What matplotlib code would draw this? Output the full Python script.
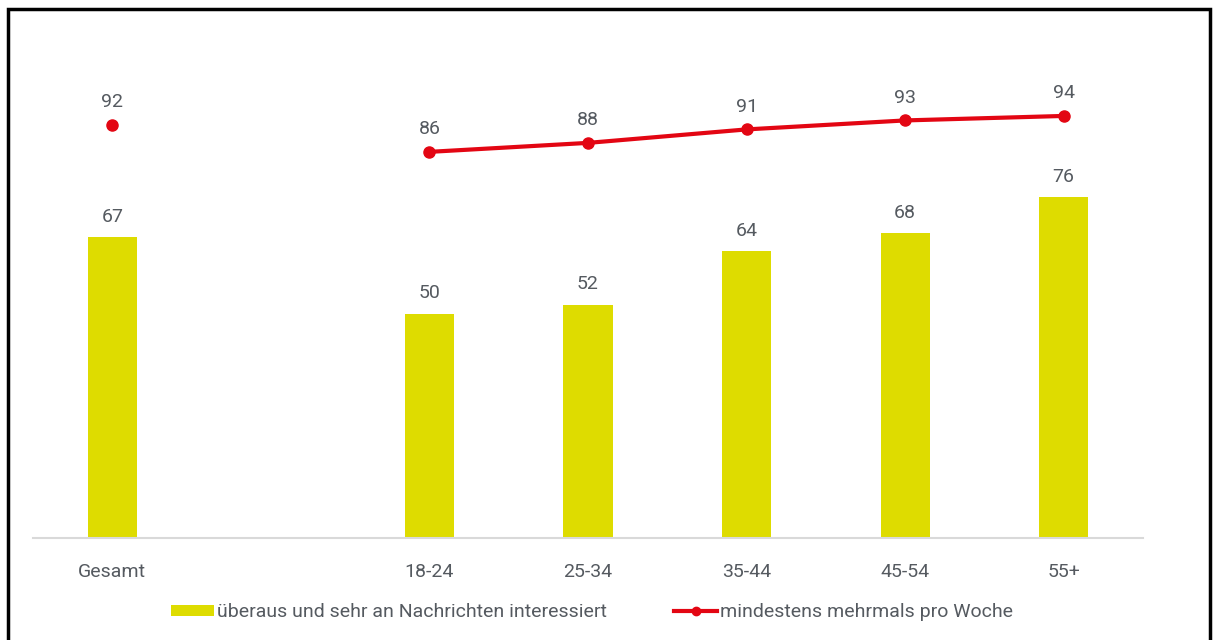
import matplotlib.pyplot as plt
from matplotlib.patches import Rectangle

# Data
categories = ['Gesamt', '', '18-24', '25-34', '35-44', '45-54', '55+']
interest = [67, None, 50, 52, 64, 68, 76]
weekly_total = 92
weekly_ages = [86, 88, 91, 93, 94]

bar_color = '#dedc00'
line_color = '#e30613'
text_color = '#555a60'

plt.rcParams['font.family'] = ['Roboto', 'DejaVu Sans']
fs = 14

fig = plt.figure(figsize=(12.16, 6.4), dpi=100)
ax = fig.add_axes([33 / 1216, 102 / 640, 1110 / 1216, 449 / 640])

# Bars
xs = [i for i, v in enumerate(interest) if v is not None]
vals = [v for v in interest if v is not None]
bars = ax.bar(xs, vals, width=0.31, color=bar_color, zorder=2)
for x, v in zip(xs, vals):
    ax.annotate(str(v), (x, v), xytext=(0, 8), textcoords='offset points',
                ha='center', va='bottom', fontsize=fs, color=text_color)

# Line for age groups, single dot for total
age_x = list(range(2, 7))
line, = ax.plot(age_x, weekly_ages, color=line_color, lw=3, marker='o', ms=8, zorder=3)
ax.plot([0], [weekly_total], color=line_color, marker='o', ms=8, ls='none', zorder=3)
for x, v in zip([0] + age_x, [weekly_total] + weekly_ages):
    ax.annotate(str(v), (x, v), xytext=(0, 10), textcoords='offset points',
                ha='center', va='bottom', fontsize=fs, color=text_color)

ax.set_xlim(-0.5, 6.5)
ax.set_ylim(0, 100)
ax.set_xticks(range(len(categories)))
ax.set_xticklabels(categories, fontsize=fs, color=text_color)
ax.tick_params(axis='x', length=0, pad=18)
ax.set_yticks([])
for s in ['top', 'right', 'left']:
    ax.spines[s].set_visible(False)
ax.spines['bottom'].set_color('#d9d9d9')
ax.spines['bottom'].set_linewidth(1.5)

leg = fig.legend([bars, line],
                 ['überaus und sehr an Nachrichten interessiert', 'mindestens mehrmals pro Woche'],
                 loc='center', bbox_to_anchor=(592 / 1216, 1 - 612 / 640), ncol=2,
                 frameon=False, fontsize=fs, handlelength=2.2, handleheight=0.5,
                 handletextpad=0.15, columnspacing=3.5, markerscale=0.75)
for t in leg.get_texts():
    t.set_color(text_color)

# Outer frame
fig.patches.append(Rectangle((8 / 1216, -0.05), 1202 / 1216, 1.05 - 9 / 640,
                             transform=fig.transFigure, fill=False,
                             edgecolor='black', lw=2.5))

fig.savefig('out.png', dpi=100)
